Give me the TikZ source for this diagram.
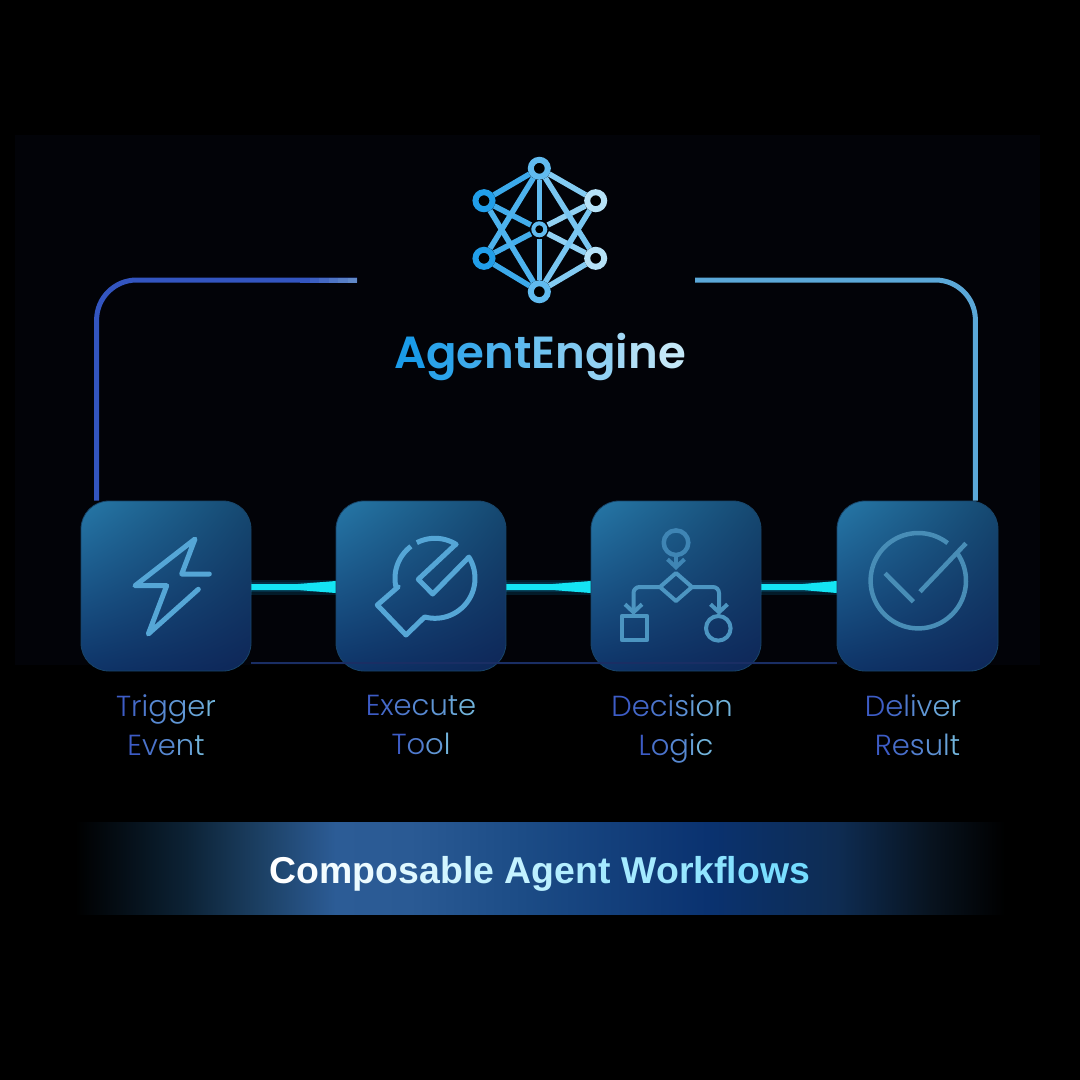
\documentclass[tikz,border=0pt]{standalone}
\usepackage{fontspec}
\newfontfamily\lblfont{Poppins Light}
\newfontfamily\titlefont{Poppins SemiBold}
\newfontfamily\bannerfont{Liberation Sans Bold}
\usetikzlibrary{arrows.meta,calc,fadings,positioning,shadings}
\definecolor{bgpanel}{HTML}{020308}
\definecolor{streak}{HTML}{040E48}
\definecolor{boxtl}{HTML}{2678A8}
\definecolor{boxtr}{HTML}{154870}
\definecolor{boxbl}{HTML}{0E3468}
\definecolor{boxbr}{HTML}{0E2658}
\definecolor{boxedge}{HTML}{184468}
\definecolor{iconline}{HTML}{55A6D6}
\definecolor{icondim}{HTML}{3F85B4}
\definecolor{lblleft}{HTML}{3D5CC6}
\definecolor{lblright}{HTML}{72B4DC}
\definecolor{titleleft}{HTML}{1A9BE8}
\definecolor{titleright}{HTML}{C4E8F8}
\definecolor{banleft}{HTML}{FFFFFF}
\definecolor{banmida}{HTML}{C4F2FF}
\definecolor{banmidb}{HTML}{A4EAFF}
\definecolor{banright}{HTML}{74DCFF}
\definecolor{wire}{HTML}{14E4F4}
\definecolor{wireglow}{HTML}{0C9CD8}
\definecolor{frameblue}{HTML}{3355C0}
\definecolor{frameend}{HTML}{6088C8}
\definecolor{framesky}{HTML}{5BA8D8}
\definecolor{baseline}{HTML}{1A2E64}
\definecolor{banA}{HTML}{0C2235}
\definecolor{banAB}{HTML}{1C4064}
\definecolor{banB}{HTML}{2C5C96}
\definecolor{banBC}{HTML}{2A5A94}
\definecolor{banC}{HTML}{1C4C86}
\definecolor{banD}{HTML}{0A3270}
\definecolor{banE}{HTML}{0E2C52}
\definecolor{banF}{HTML}{08131F}
\pgfdeclarehorizontalshading{bannerfade}{100bp}{
	color(0bp)=(black);color(25bp)=(black);color(31bp)=(banA);color(35bp)=(banAB);color(39bp)=(banB);color(43bp)=(banBC);color(49bp)=(banC);
	color(59bp)=(banD);color(66bp)=(banE);color(71bp)=(banF);color(75bp)=(black);color(100bp)=(black)}
\tikzfading[name=streakfade,left color=transparent!100,middle color=transparent!0,right color=transparent!100]
\newcommand{\gradword}[4]{\foreach \ch [count=\n] in {#4}{\pgfmathtruncatemacro\pct{100*(\n-1)/(#3-1)}\textcolor{#2!\pct!#1}{\ch}}}
\tikzset{
	pixels/.style={x=1pt,y=-1pt},
	stagebox/.style={
		rectangle, rounded corners=28pt,
		minimum width=170pt, minimum height=170pt,
		inner sep=0pt, draw=boxedge, line width=0.8pt,
		lower left=boxbl, lower right=boxbr, upper left=boxtl, upper right=boxtr
	},
	stagelabel/.style={align=center,font=\lblfont\fontsize{29}{39}\selectfont,inner sep=0pt},
	icon/.style={draw=iconline,line width=5pt,line join=round,line cap=round},
	icon dim/.style={draw=icondim,line width=4.5pt,line join=round},
	flow tip/.style={-{Straight Barb[length=8pt,width=17pt]}},
	wire glow/.style={draw=wireglow,line width=#1,opacity=0.16},
	wire core/.style={fill=wire},
	streakbar/.style={fill=streak,path fading=streakfade},
	frameline/.style={line width=5pt,rounded corners=40pt},
	netnode/.style={circle,fill=black,line width=6pt,minimum size=17pt,inner sep=0pt},
	netedge/.style={line width=5.5pt}
}
\begin{document}
\begin{tikzpicture}[pixels]
	\useasboundingbox (0,0) rectangle (1080,1080);
	\fill[black] (0,0) rectangle (1080,1080);
	\fill[bgpanel] (15,135) rectangle (1040,665);
	\foreach \sx in {240,513,752}
		\fill[streakbar] (\sx-20,285) rectangle (\sx+20,1000);
	\node[stagebox] (trigger)	at (166,586) {};
	\node[stagebox] (execute)	at (421,586) {};
	\node[stagebox] (decision)	at (676,586) {};
	\node[stagebox,minimum width=161pt] (deliver)	at (917.5,586) {};
	\coordinate (leftend)	at (357,280);
	\coordinate (rightend)	at (695,280);
	\draw[draw=baseline,line width=2pt] ($(trigger.south east)+(0,-8)$)--($(deliver.south west)+(0,-8)$);
	\draw[frameline,draw=frameblue] ($(trigger.north west)+(16,0)$) |- (leftend);
	\foreach \p in {0,20,...,100}
		\draw[line width=5pt,draw=frameend!\p!frameblue] (300+0.475*\p,280)--(309.5+0.475*\p,280);
	\draw[frameline,draw=framesky] ($(deliver.north east)+(-23,0)$) |- (rightend);
	\foreach \a/\b in {trigger/execute,execute/decision,decision/deliver}
	{
		\draw[wire glow=15pt] ($(\a.east)+(0,1)$)--($(\b.west)+(0,1)$);
		\draw[wire glow=10pt] ($(\a.east)+(0,1)$)--($(\b.west)+(0,1)$);
		\fill[wire core] ($(\a.east)+(0,-2)$)--($(\a.east)!0.55!(\b.west)+(0,-2)$)--($(\b.west)+(0,-5)$)--($(\b.west)+(0,7)$)--($(\a.east)!0.55!(\b.west)+(0,4)$)--($(\a.east)+(0,4)$)--cycle;
	}
	\node[stagelabel] (triggerlabel)	at (166,725) {\gradword{lblleft}{lblright}{7}{T,r,i,g,g,e,r}\\\gradword{lblleft}{lblright}{5}{E,v,e,n,t}};
	\node[stagelabel] (executelabel)	at (421,725) {\gradword{lblleft}{lblright}{7}{E,x,e,c,u,t,e}\\\gradword{lblleft}{lblright}{4}{T,o,o,l}};
	\node[stagelabel] (decisionlabel)	at (672,728.5) {\gradword{lblleft}{lblright}{8}{D,e,c,i,s,i,o,n}\\\hspace*{8pt}\gradword{lblleft}{lblright}{5}{L,o,g,i,c}};
	\node[stagelabel] (deliverlabel)	at (913,725) {\gradword{lblleft}{lblright}{7}{D,e,l,i,v,e,r}\\\hspace*{9pt}\gradword{lblleft}{lblright}{6}{R,e,s,u,l,t}};
	\draw[icon] (198.3,589.3)--(148.3,634)--(166.7,585.7)--(135,585.7)--(195,539)--(181.7,574)--(209.3,574);
	\def\wcx{435}
	\def\wcy{578.3}
	\draw[icon,line cap=butt] plot[domain=-117:-58,samples=20] ({\wcx+40*cos(\x)},{\wcy+40*sin(\x)})
		--(455,545)--(418.3,579.3)--(432.7,594)--(468.3,557.7)
		--plot[domain=-32:105,samples=30] ({\wcx+40*cos(\x)},{\wcy+40*sin(\x)})
		--(406,635)--(377.3,605)--(398.3,586.7)
		--plot[domain=167:233,samples=20] ({\wcx+40*cos(\x)},{\wcy+40*sin(\x)});
	\draw[icon dim] (676,542.7) circle (12.3);
	\draw[icon dim,line width=4pt,flow tip] (676,555)--(676,570);
	\draw[icon dim,line width=4pt,draw=iconline!90!black] (660,587)--(676,573)--(692,587)--(676,601)--cycle;
	\draw[icon dim,line width=4pt,draw=iconline!90!black,rounded corners=6pt,flow tip] (660,587)--(633.5,587)--(633.5,615);
	\draw[icon dim,line width=4pt,draw=iconline!90!black,rounded corners=6pt,flow tip] (692,587)--(719,587)--(719,615);
	\draw[icon dim,line width=4pt,draw=iconline!90!black] (621.7,616) rectangle (647.3,640);
	\draw[icon dim,line width=4pt,draw=iconline!90!black] (718.3,628.3) circle (12.3);
	\draw[icon dim,draw=iconline!85!black] plot[domain=-34:308,samples=80] ({918.3+47.7*cos(\x)},{580.7+47.7*sin(\x)});
	\draw[icon dim,draw=iconline!85!black] (885,573.3)--(913.3,601.7);
	\draw[icon dim,draw=iconline!85!black] (920,591.7)--(966,543.3);
	\node[netnode] (nettop)		at (539.3,168.3) {};
	\node[netnode] (netul)		at (484,200.7) {};
	\node[netnode] (netur)		at (595.7,200.7) {};
	\node[netnode,minimum size=13pt] (netmid)	at (539.3,229.3) {};
	\node[netnode] (netll)		at (484,258.3) {};
	\node[netnode] (netlr)		at (595.7,258.3) {};
	\node[netnode] (netbot)		at (539.3,291.7) {};
	\foreach \a/\b/\c in {netul/nettop/20,netll/netbot/20,netul/netmid/24,netll/netmid/24,netul/netbot/30,netll/nettop/30,nettop/netmid/42,netmid/netbot/42,nettop/netur/62,netbot/netlr/62,netmid/netur/70,netmid/netlr/70,nettop/netlr/56,netbot/netur/56}
		\draw[netedge,draw=titleright!\c!titleleft] (\a)--(\b);
	\foreach \n/\c/\s/\w in {nettop/42/17/6,netul/4/17/6,netur/92/17/6,netmid/42/12/4,netll/4/17/6,netlr/92/17/6,netbot/42/17/6}
		\node[netnode,draw=titleright!\c!titleleft,minimum size=\s pt,line width=\w pt] at (\n) {};
	\node[inner sep=0pt,font=\titlefont\fontsize{45}{52}\selectfont] (title) at (540,357) {\gradword{titleleft}{titleright}{11}{A,g,e,n,t,E,n,g,i,n,e}};
	\node[shade,shading=bannerfade,minimum width=930pt,minimum height=92pt,inner sep=0pt,font=\bannerfont\fontsize{37.4}{42}\selectfont] (banner) at (540,868) {\raisebox{-15pt}[0pt][0pt]{\gradword{banleft}{banmida}{10}{C,o,m,p,o,s,a,b,l,e}\ \gradword{banmida}{banmidb}{5}{A,g,e,n,t}\ \gradword{banmidb}{banright}{9}{W,o,r,k,f,l,o,w,s}}};
\end{tikzpicture}
\end{document}
